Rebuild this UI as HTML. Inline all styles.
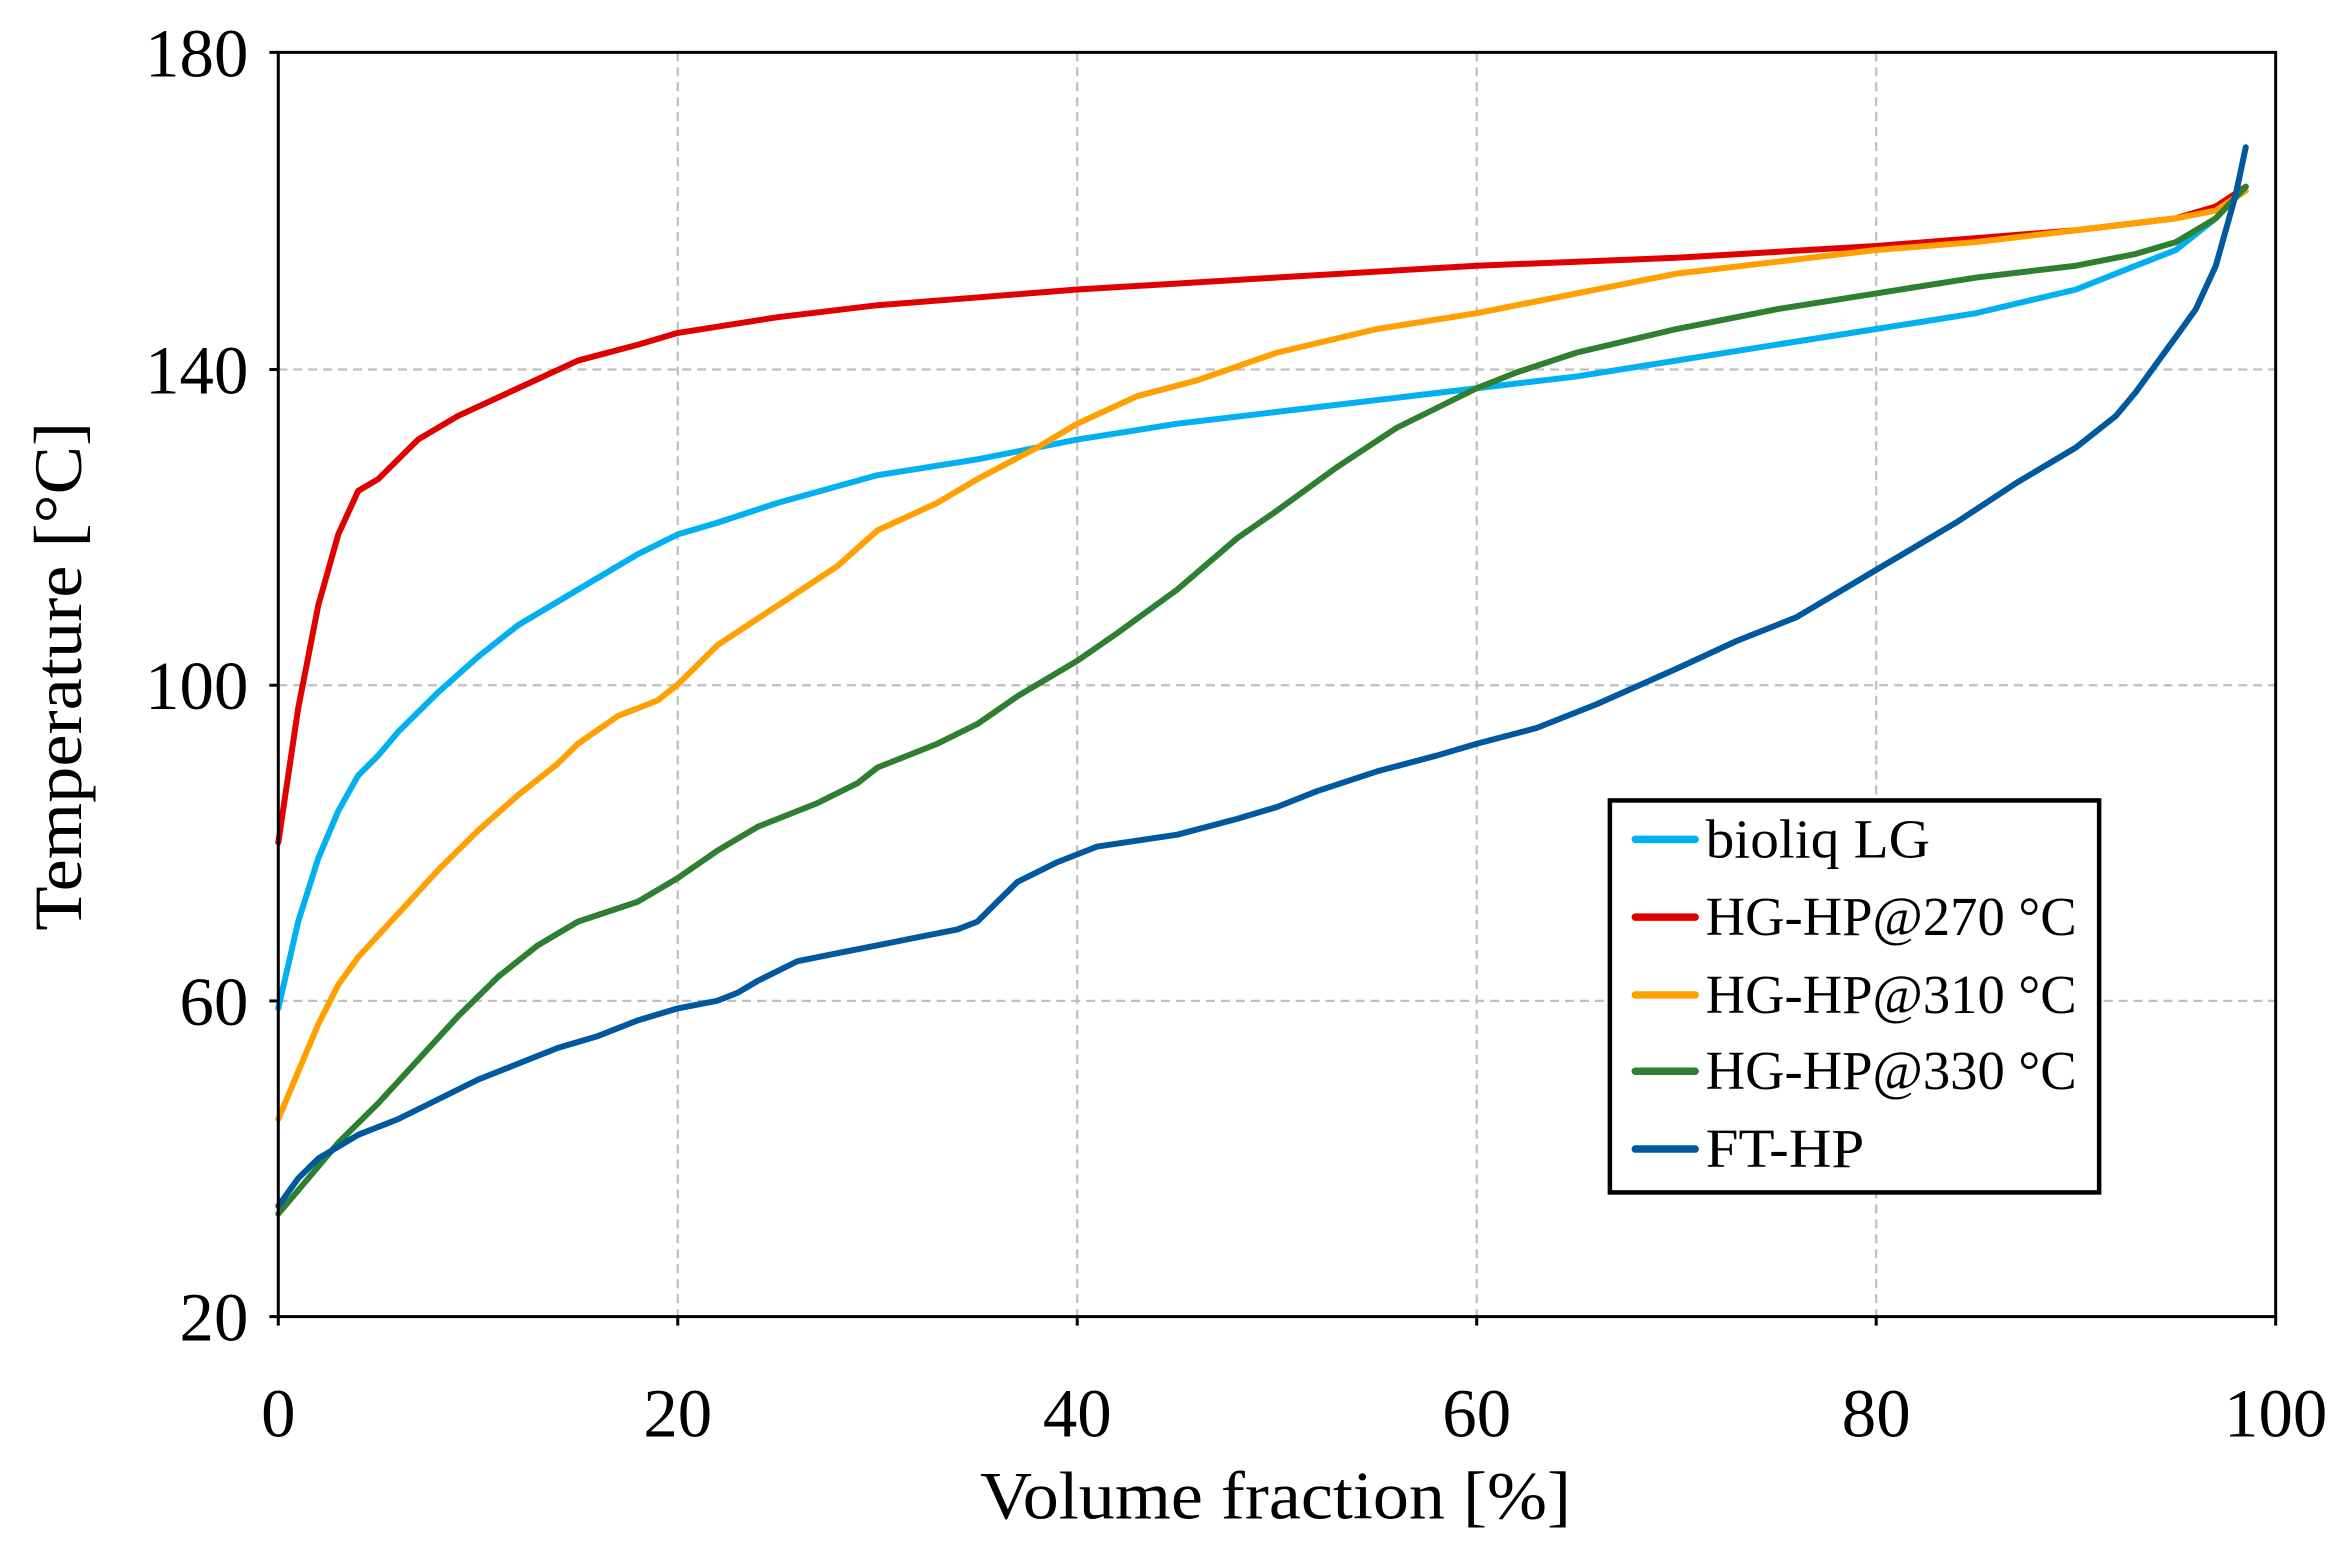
<!DOCTYPE html>
<html><head><meta charset="utf-8"><style>html,body{margin:0;padding:0;background:#fff}svg{display:block}</style></head>
<body>
<svg id="s" width="2346" height="1556" viewBox="0 0 1568 1040" preserveAspectRatio="none" xmlns="http://www.w3.org/2000/svg" font-family="Liberation Serif, serif">
<rect width="1568" height="1040" fill="#fff"/>
<g stroke="#bfbfbf" stroke-width="1.5" stroke-dasharray="6,4">
<line x1="453" y1="35" x2="453" y2="880"/><line x1="720" y1="35" x2="720" y2="880"/><line x1="987" y1="35" x2="987" y2="880"/><line x1="1254" y1="35" x2="1254" y2="880"/>
<line x1="186" y1="247" x2="1521" y2="247"/><line x1="186" y1="458" x2="1521" y2="458"/><line x1="186" y1="669" x2="1521" y2="669"/>
</g>
<g id="curves" fill="none" stroke-width="4" stroke-linejoin="round" stroke-linecap="round"></g>
<rect x="186" y="35" width="1335" height="845" fill="none" stroke="#000" stroke-width="2"/>
<g stroke="#000" stroke-width="2">
<line x1="180" y1="35" x2="186" y2="35"/><line x1="180" y1="247" x2="186" y2="247"/><line x1="180" y1="458" x2="186" y2="458"/><line x1="180" y1="669" x2="186" y2="669"/><line x1="180" y1="880" x2="186" y2="880"/>
<line x1="186" y1="880" x2="186" y2="886"/><line x1="453" y1="880" x2="453" y2="886"/><line x1="720" y1="880" x2="720" y2="886"/><line x1="987" y1="880" x2="987" y2="886"/><line x1="1254" y1="880" x2="1254" y2="886"/><line x1="1521" y1="880" x2="1521" y2="886"/>
</g>
<g font-size="46" fill="#000" text-anchor="end">
<text x="166" y="51">180</text><text x="166" y="263">140</text><text x="166" y="474">100</text><text x="166" y="685">60</text><text x="166" y="896">20</text>
</g>
<g font-size="46" fill="#000" text-anchor="middle">
<text x="186" y="960">0</text><text x="453" y="960">20</text><text x="720" y="960">40</text><text x="987" y="960">60</text><text x="1254" y="960">80</text><text x="1521" y="960">100</text>
</g>
<text x="655" y="1015" font-size="45" textLength="395" lengthAdjust="spacingAndGlyphs">Volume fraction [%]</text>
<text transform="translate(54,622) rotate(-90)" font-size="45" textLength="340" lengthAdjust="spacingAndGlyphs">Temperature [°C]</text>
<rect x="1076" y="535" width="327" height="262" fill="#fff" stroke="#000" stroke-width="3"/>
<g stroke-width="5" stroke-linecap="round">
<line x1="1093" y1="561" x2="1133" y2="561" stroke="#00B0F0"/>
<line x1="1093" y1="613" x2="1133" y2="613" stroke="#E00000"/>
<line x1="1093" y1="665" x2="1133" y2="665" stroke="#FFA000"/>
<line x1="1093" y1="716" x2="1133" y2="716" stroke="#2E8030"/>
<line x1="1093" y1="768" x2="1133" y2="768" stroke="#00589E"/>
</g>
<g font-size="37" fill="#000">
<text x="1140" y="573" textLength="150" lengthAdjust="spacingAndGlyphs">bioliq LG</text>
<text x="1140" y="625" textLength="248" lengthAdjust="spacingAndGlyphs">HG-HP@270 °C</text>
<text x="1140" y="677" textLength="248" lengthAdjust="spacingAndGlyphs">HG-HP@310 °C</text>
<text x="1140" y="728" textLength="248" lengthAdjust="spacingAndGlyphs">HG-HP@330 °C</text>
<text x="1140" y="780" textLength="106" lengthAdjust="spacingAndGlyphs">FT-HP</text>
</g>
<script>
var D=[
["#00B0F0",[[0,59],[1,70],[2,78],[3,84],[4,88.5],[5,91],[6,94],[8,99],[10,103.5],[12,107.5],[15,112],[18,116.5],[20,119],[22,120.5],[25,123],[30,126.5],[35,128.5],[40,131],[45,133],[50,134.5],[55,136],[60,137.5],[65,139],[70,141],[75,143],[80,145],[85,147],[90,150],[93,153],[95,155],[97,159],[98.5,163]]],
["#E00000",[[0,80],[1,97],[2,110],[3,119],[4,124.5],[5,126],[7,131],[9,134],[12,137.5],[15,141],[18,143],[20,144.5],[25,146.5],[30,148],[35,149],[40,150],[50,151.5],[60,153],[70,154],[80,155.5],[90,157.5],[95,159],[97,160.5],[98.5,163]]],
["#FFA000",[[0,45],[1,51],[2,57],[3,62],[4,65.5],[6,71],[8,76.5],[10,81.5],[12,86],[14,90],[15,92.5],[17,96],[19,98],[20,100],[22,105],[25,110],[28,115],[30,119.5],[33,123],[35,126],[38,130],[40,133],[43,136.5],[46,138.5],[50,142],[55,145],[60,147],[65,149.5],[70,152],[75,153.5],[80,155],[85,156],[90,157.5],[95,159],[97,160],[98.5,162.5]]],
["#2E8030",[[0,33],[2,39],[3,42],[5,47],[7,52.5],[9,58],[11,63],[13,67],[15,70],[18,72.5],[20,75.5],[22,79],[24,82],[27,85],[29,87.5],[30,89.5],[33,92.5],[35,95],[37,98.5],[40,103],[42,106.5],[45,112],[48,118.5],[50,122],[53,127.5],[56,132.5],[58,135],[60,137.5],[62,139.5],[65,142],[70,145],[75,147.5],[80,149.5],[85,151.5],[90,153],[93,154.5],[95,156],[97,159],[98.5,163]]],
["#00589E",[[0,34],[1,37.5],[2,40],[4,43],[6,45],[8,47.5],[10,50],[12,52],[14,54],[16,55.5],[18,57.5],[20,59],[22,60],[23,61],[24,62.5],[26,65],[28,66],[30,67],[32,68],[34,69],[35,70],[36,72.5],[37,75],[39,77.5],[41,79.5],[45,81],[48,83],[50,84.5],[52,86.5],[55,89],[58,91],[60,92.5],[63,94.5],[66,97.5],[70,102],[73,105.5],[76,108.5],[80,114.5],[84,120.5],[87,125.5],[90,130],[92,134],[93,137],[94,140.5],[95,144],[96,147.5],[97,153],[98,162],[98.5,168]]]];
var g=document.getElementById("curves");
D.forEach(function(s){var p=document.createElementNS("http://www.w3.org/2000/svg","polyline");
p.setAttribute("points",s[1].map(function(d){return (186+d[0]*13.35).toFixed(1)+","+(880-(d[1]-20)*5.281).toFixed(1)}).join(" "));
p.setAttribute("stroke",s[0]);g.appendChild(p);});
</script>
</svg>
</body></html>
